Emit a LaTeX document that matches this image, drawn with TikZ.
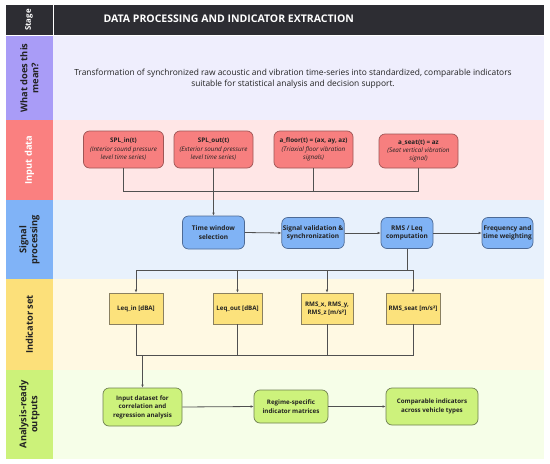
\documentclass[tikz,border=0pt]{standalone}
\usepackage{fontspec}
\setmainfont{Open Sans}
\usetikzlibrary{arrows.meta}
\definecolor{hdr}{HTML}{2D2D33}
\definecolor{labA}{HTML}{A99CF7}\definecolor{bgA}{HTML}{EFEEFD}
\definecolor{labB}{HTML}{FA8080}\definecolor{bgB}{HTML}{FFE6E6}
\definecolor{labC}{HTML}{80B3F7}\definecolor{bgC}{HTML}{E8F1FC}
\definecolor{labD}{HTML}{FCE07A}\definecolor{bgD}{HTML}{FFF9E3}
\definecolor{labE}{HTML}{CCF27A}\definecolor{bgE}{HTML}{F6FEE8}
\definecolor{inF}{HTML}{F77F7F}\definecolor{inD}{HTML}{9E5555}
\definecolor{spF}{HTML}{80B3F5}\definecolor{spD}{HTML}{4D6A95}
\definecolor{idF}{HTML}{FCE27C}\definecolor{idD}{HTML}{8A8060}
\definecolor{ouF}{HTML}{CDF27C}\definecolor{ouD}{HTML}{6F8050}
\definecolor{linec}{HTML}{505050}
\definecolor{txt}{HTML}{222222}
\tikzset{
  conn/.style={draw=linec, line width=0.8pt},
  arr/.style={conn, -{Latex[length=3pt,width=2.6pt]}},
  lab/.style={rotate=90, align=center, font=\fontsize{9.3}{11}\selectfont\bfseries, text=txt},
  nbase/.style={align=center, line width=0.7pt, inner sep=1pt, text=txt},
  inbox/.style={nbase, draw=inD, fill=inF, rounded corners=6pt, font=\fontsize{6.3}{8.4}\selectfont},
  spbox/.style={nbase, draw=spD, fill=spF, rounded corners=6pt, font=\fontsize{6.5}{8.3}\selectfont\bfseries},
  idbox/.style={nbase, draw=idD, fill=idF, font=\fontsize{6.2}{8.3}\selectfont\bfseries},
  oubox/.style={nbase, draw=ouD, fill=ouF, rounded corners=6pt, font=\fontsize{6.2}{8.6}\selectfont\bfseries},
}
\begin{document}
\begin{tikzpicture}[x=1pt,y=-1pt]
\useasboundingbox (0,0) rectangle (550,464);
% header
\fill[hdr] (6,5) rectangle (52.5,35);
\fill[hdr] (54,5) rectangle (544,35);
\node[rotate=90, text=white, font=\fontsize{7.8}{9}\selectfont\bfseries] (stage) at (29,20) {Stage};
\node[anchor=west, text=white, font=\fontsize{10.5}{12}\selectfont\bfseries] (title) at (100,18.5) {DATA PROCESSING AND INDICATOR EXTRACTION};
% rows
\fill[bgA] (53,36) rectangle (544,120); \fill[labA] (6,36) rectangle (53,120);
\fill[bgB] (53,120) rectangle (544,200); \fill[labB] (6,120) rectangle (53,200);
\fill[bgC] (53,200) rectangle (544,279); \fill[labC] (6,200) rectangle (53,279);
\fill[bgD] (53,279) rectangle (544,370); \fill[labD] (6,279) rectangle (53,370);
\fill[bgE] (53,370) rectangle (544,459); \fill[labE] (6,370) rectangle (53,459);
\node[lab] (lA) at (29.5,78) {What does this\\mean?};
\node[lab, text=white] (lB) at (29.5,160) {Input data};
\node[lab] (lC) at (29.5,239.5) {Signal\\processing};
\node[lab] (lD) at (29.5,324.5) {Indicator set};
\node[lab] (lE) at (29.5,414.5) {Analysis-ready\\outputs};
% description
\node[align=center, text=txt, font=\fontsize{8.4}{11}\selectfont] (desc) at (293,78.5)
 {Transformation of synchronized raw acoustic and vibration time-series into standardized, comparable indicators\\suitable for statistical analysis and decision support.};
% input data
\node[inbox, minimum width=80pt, minimum height=37pt] (in1) at (123.5,149.5)
 {\textbf{SPL\_in(t)}\\\textit{(Interior sound pressure}\\\textit{level time series)}};
\node[inbox, minimum width=79pt, minimum height=37pt] (in2) at (213.5,149.5)
 {\textbf{SPL\_out(t)}\\\textit{(Exterior sound pressure}\\\textit{level time series)}};
\node[inbox, minimum width=79pt, minimum height=37pt] (in3) at (313.5,149.5)
 {\textbf{a\_floor(t) = (ax, ay, az)}\\\textit{(Triaxial floor vibration}\\\textit{signals)}};
\node[inbox, minimum width=79pt, minimum height=34pt] (in4) at (418.5,151)
 {\textbf{a\_seat(t) = az}\\\textit{(Seat vertical vibration}\\\textit{signal)}};
\coordinate (busA) at (0,191);
\draw[conn] (in1.south) -- (in1.south |- busA) -- (in4.south |- busA) -- (in4.south);
\draw[conn] (in3.south) -- (in3.south |- busA);
% signal processing
\node[spbox, minimum width=62pt, minimum height=33pt] (sp1) at (213.5,232.5) {Time window\\selection};
\node[spbox, minimum width=62pt, minimum height=31pt] (sp2) at (313,233) {Signal validation \&\\synchronization};
\node[spbox, minimum width=52pt, minimum height=31pt] (sp3) at (407,233) {RMS / Leq\\computation};
\node[spbox, minimum width=51pt, minimum height=31pt] (sp4) at (507.5,233) {Frequency and\\time weighting};
\draw[arr] (in2.south) -- (sp1.north);
\draw[arr] (sp1.east) -- (sp2.west);
\draw[arr] (sp2.east) -- (sp3.west);
\draw[arr] (sp3.east) -- (sp4.west);
% indicator set
\node[idbox, minimum width=54pt, minimum height=31pt] (id1) at (136,308.5) {Leq\_in [dBA]};
\node[idbox, minimum width=49pt, minimum height=31pt] (id2) at (237.5,308.5) {Leq\_out [dBA]};
\node[idbox, minimum width=52pt, minimum height=31pt] (id3) at (327,308.5) {RMS\_x, RMS\_y,\\RMS\_z [m/s²]};
\node[idbox, minimum width=54pt, minimum height=31pt] (id4) at (413,308.5) {RMS\_seat [m/s²]};
\coordinate (busB) at (0,270);
\draw[conn] (sp3.south) -- (sp3.south |- busB);
\draw[conn] (id1.north |- busB) -- (id4.north |- busB);
\foreach \n in {id1,id2,id3,id4} \draw[arr] (\n.north |- busB) -- (\n.north);
\coordinate (busC) at (0,355);
\draw[conn] (id1.south) -- (id1.south |- busC) -- (id4.south |- busC) -- (id4.south);
\draw[conn] (id2.south) -- (id2.south |- busC);
\draw[conn] (id3.south) -- (id3.south |- busC);
% outputs
\node[oubox, minimum width=79pt, minimum height=38pt] (ou1) at (142.5,407) {Input dataset for\\correlation and\\regression analysis};
\node[oubox, minimum width=74pt, minimum height=33pt] (ou2) at (291,406.5) {Regime-specific\\indicator matrices};
\node[oubox, minimum width=92pt, minimum height=37pt] (ou3) at (432,406.5) {Comparable indicators\\across vehicle types};
\draw[arr] (ou1.north |- busC) -- (ou1.north);
\draw[arr] (ou1.east) -- (ou2.west);
\draw[arr] (ou2.east) -- (ou3.west);
\end{tikzpicture}
\end{document}
